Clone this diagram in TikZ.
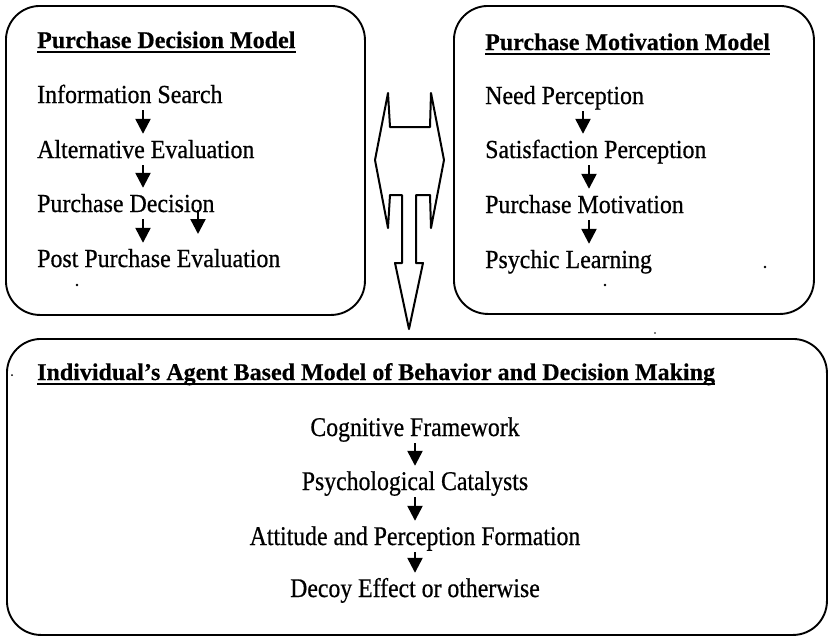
\documentclass[tikz,border=0pt]{standalone}
\usepackage{fontspec}
\setmainfont{Liberation Serif}
\newfontfamily\tallfont{Liberation Serif}[Ligatures=TeX,FakeStretch=0.92,FakeBold=0.6]
\newfontfamily\tallerfont{Liberation Serif}[Ligatures=TeX,FakeStretch=0.88,FakeBold=0.6]
\newfontfamily\ttlfont{Liberation Serif Bold}[Ligatures=TeX,FakeBold=0.4]
\usetikzlibrary{arrows.meta}
\begin{document}
\begin{tikzpicture}[x=1pt,y=-1pt,
  box/.style={draw, line width=1.9pt, rounded corners=34pt, inner sep=0pt, anchor=north west},
  txt/.style={inner sep=0pt, anchor=base west, text height=16pt, text depth=6pt, font=\tallfont\fontsize{26}{30}\selectfont},
  ctxt/.style={txt, anchor=base, font=\tallerfont\fontsize{27}{31}\selectfont},
  ttl/.style={txt, font=\ttlfont\fontsize{24}{28}\selectfont},
  arr/.style={line width=2.4pt, -{Triangle[width=15pt,length=15pt]}, shorten <=1pt, shorten >=8pt},
  blk/.style={draw, line width=2pt, line join=round},
  uline/.style={line width=1.6pt},
  dot/.style={fill, circle, inner sep=0pt, minimum size=2.6pt}]
\useasboundingbox (0,0) rectangle (828,638);
% boxes
\node[box, minimum width=359pt, minimum height=309pt] (lbox) at (5,5) {};
\node[box, minimum width=360pt, minimum height=308pt] (rbox) at (453,5) {};
\node[box, minimum width=820pt, minimum height=296pt] (bbox) at (6,338) {};
% left box
\node[ttl] (lt) at (37,48) {Purchase Decision Model};
\draw[uline] ([yshift=-4pt]lt.base west) -- ([yshift=-4pt]lt.base east);
\node[txt] (i1) at (37,103) {Information Search};
\node[txt] (i2) at (37,158) {Alternative Evaluation};
\node[txt] (i3) at (37,212) {Purchase Decision};
\node[txt] (i4) at (37,267) {Post Purchase Evaluation};
\coordinate (lx) at (143,0);
\coordinate (lx2) at (198,0);
\coordinate (lend) at (198,234);
\draw[arr] (i1.south -| lx) -- (i2.north -| lx);
\draw[arr] (i2.south -| lx) -- (i3.north -| lx);
\draw[arr] (i3.south -| lx) -- (i4.north -| lx);
\draw[arr, shorten <=-8pt, shorten >=0pt] (i3.south -| lx2) -- (lend);
% right box
\node[ttl] (rt) at (485,50) {Purchase Motivation Model};
\draw[uline] ([yshift=-4pt]rt.base west) -- ([yshift=-4pt]rt.base east);
\node[txt] (n1) at (485,104) {Need Perception};
\node[txt] (n2) at (485,158) {Satisfaction Perception};
\node[txt] (n3) at (485,213) {Purchase Motivation};
\node[txt] (n4) at (485,268) {Psychic Learning};
\coordinate (rx1) at (583,0);
\coordinate (rx) at (589,0);
\draw[arr] (n1.south -| rx1) -- (n2.north -| rx1);
\draw[arr] (n2.south -| rx) -- (n3.north -| rx);
\draw[arr] (n3.south -| rx) -- (n4.north -| rx);
% bottom box
\node[ttl] (bt) at (37,380) {Individual’s Agent Based Model of Behavior and Decision Making};
\draw[uline] ([yshift=-4pt]bt.base west) -- ([yshift=-4pt]bt.base east);
\node[ctxt] (c1) at (415,436) {Cognitive Framework};
\node[ctxt] (c2) at (415,490) {Psychological Catalysts};
\node[ctxt] (c3) at (415,545) {Attitude and Perception Formation};
\node[ctxt] (c4) at (415,597) {Decoy Effect or otherwise};
\draw[arr] (c1) -- (c2);
\draw[arr] (c2) -- (c3);
\draw[arr] (c3) -- (c4);
% block arrow
\draw[blk] (388,93) -- (390,127) -- (430,127) -- (431,93) -- (444,160) -- (431,228)
  -- (430,195) -- (416,195) -- (416,263) -- (423,263) -- (409,329) -- (395,263)
  -- (402,263) -- (402,195) -- (390,195) -- (388,228) -- (375,160) -- cycle;
% stray dots
\node[dot] (d1) at (77,285) {};
\node[dot] (d2) at (765,267) {};
\node[dot] (d3) at (605,285) {};
\node[dot, minimum size=2pt] (d4) at (12,375) {};
\node[dot, minimum size=1.6pt] (d5) at (655,333) {};
\end{tikzpicture}
\end{document}
